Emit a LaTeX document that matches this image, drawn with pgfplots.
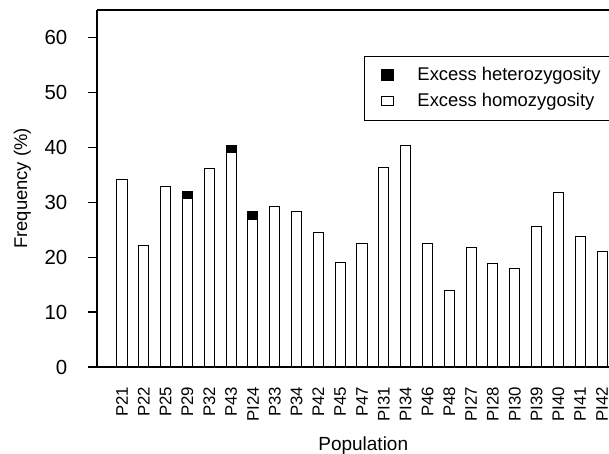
\documentclass[border=0pt]{standalone}
\usepackage{fontspec}
\setmainfont{Liberation Sans}
\usepackage{pgfplots}
\pgfplotsset{compat=1.18}
\begin{document}
\begin{tikzpicture}
\useasboundingbox (-48.5pt,-43.5pt) rectangle (256pt,183.5pt);
\begin{axis}[
  anchor=south west, at={(0pt,0pt)},
  width=256pt, height=178.5pt, scale only axis,
  ybar, bar shift=0pt, bar width=0.46,
  xmin=-1.146, xmax=22.32, ymin=0, ymax=65,
  axis x line=box, axis y line=left,
  axis line style={-, line width=0.75pt, black},
  xtick={0,...,22},
  xticklabels={P21,P22,P25,P29,P32,P43,PI24,P33,P34,P42,P45,P47,PI31,PI34,P46,P48,PI27,PI28,PI30,PI39,PI40,PI41,PI42},
  xtick style={draw=none},
  xticklabel style={rotate=90, anchor=east, font=\fontsize{8.4}{9}\selectfont},
  xticklabel shift=2pt,
  ytick={0,10,...,60},
  tick align=outside,
  ytick style={line width=0.6pt, black},
  major tick length=4.5pt,
  /pgf/number format/assume math mode=true,
  yticklabel style={font=\fontsize{10.2}{11}\selectfont, xshift=-2pt},
  yticklabel shift=4.8pt,
  ylabel={Frequency (\%)},
  ylabel style={font=\fontsize{9.2}{11}\selectfont, at={(axis description cs:-0.146,0.5)}, anchor=center, rotate=0},
  xlabel={Population},
  xlabel style={font=\fontsize{9.5}{11}\selectfont, at={(axis description cs:0.520,-0.221)}, anchor=center},
  legend style={at={(rel axis cs:1.004,0.871)}, xshift=2pt, anchor=north east, draw=black, line width=0.5pt,
    font=\fontsize{9.2}{11}\selectfont, inner xsep=0pt, inner ysep=5.5pt, row sep=4.6pt,
    column sep=0pt, nodes={inner xsep=0pt, inner ysep=0pt}},
  legend cell align=left,
  clip=false,
]
\addlegendimage{legend image code/.code={\path[draw=none,fill=none] (-8.5pt,0pt) -- (18pt,0pt); \fill[black] (0pt,-2.5pt) rectangle (6pt,3pt);}}
\addlegendentry{Excess heterozygosity\hspace*{7pt}}
\addlegendimage{legend image code/.code={\path[draw=none,fill=none] (-8.5pt,0pt) -- (18pt,0pt); \draw[black, line width=0.5pt, fill=white] (0pt,-2.2pt) rectangle (6pt,2.4pt);}}
\addlegendentry{Excess homozygosity\hspace*{7pt}}
% total height (homozygosity + heterozygosity), black
\addplot[forget plot, fill=black, draw=black, line width=0.5pt] coordinates {
 (3,32.0) (5,40.4) (6,28.3)
};
% excess homozygosity, white
\addplot[forget plot, fill=white, draw=black, line width=0.5pt] coordinates {
 (0,34.2) (1,22.1) (2,32.9) (3,30.7) (4,36.1) (5,39.0) (6,26.8) (7,29.2)
 (8,28.3) (9,24.4) (10,19.1) (11,22.4) (12,36.4) (13,40.3) (14,22.4) (15,14.0)
 (16,21.8) (17,18.8) (18,17.9) (19,25.5) (20,31.8) (21,23.8) (22,21.0)
};
\end{axis}
\end{tikzpicture}
\end{document}
